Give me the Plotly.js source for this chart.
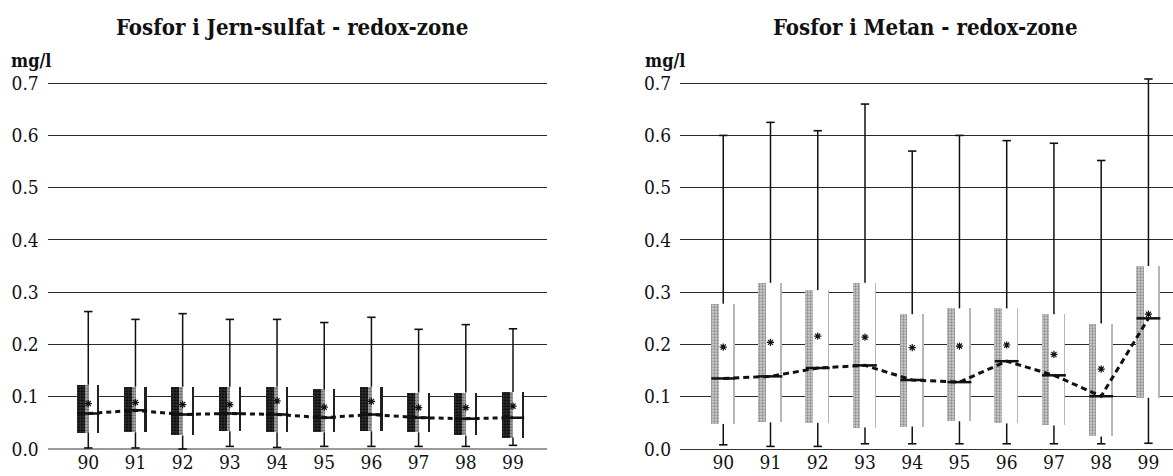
<!DOCTYPE html>
<html>
<head>
<meta charset="utf-8">
<script src="https://cdn.plot.ly/plotly-3.0.1.min.js"></script>
<style>
html,body{margin:0;padding:0;background:#fff;}
#chart{width:1173px;height:476px;}
</style>
</head>
<body>
<div id="chart"></div>
<script>
// ---- data ----
const years = ['90','91','92','93','94','95','96','97','98','99'];

// Fosfor i Jern-sulfat - redox-zone (mg/l)
const jsMin    = [0.002,0.002,0.000,0.005,0.003,0.005,0.005,0.005,0.005,0.007];
const jsQ1     = [0.031,0.032,0.026,0.034,0.032,0.032,0.034,0.032,0.026,0.022];
const jsMedian = [0.068,0.074,0.066,0.068,0.066,0.060,0.066,0.060,0.058,0.060];
const jsMean   = [0.087,0.089,0.085,0.085,0.092,0.080,0.091,0.079,0.079,0.082];
const jsQ3     = [0.123,0.119,0.119,0.119,0.119,0.114,0.119,0.108,0.108,0.109];
const jsMax    = [0.263,0.248,0.259,0.248,0.248,0.242,0.252,0.229,0.238,0.230];

// Fosfor i Metan - redox-zone (mg/l)
const meMin    = [0.008,0.005,0.005,0.010,0.010,0.010,0.010,0.010,0.010,0.011];
const meQ1     = [0.048,0.051,0.050,0.041,0.043,0.053,0.049,0.045,0.024,0.098];
const meMedian = [0.135,0.139,0.155,0.160,0.132,0.128,0.168,0.141,0.101,0.250];
const meMean   = [0.195,0.204,0.216,0.214,0.194,0.197,0.199,0.181,0.153,0.258];
const meQ3     = [0.278,0.318,0.304,0.318,0.258,0.269,0.269,0.258,0.240,0.350];
const meMax    = [0.600,0.625,0.609,0.660,0.570,0.600,0.590,0.585,0.552,0.708];

const titles = ['Fosfor i Jern-sulfat - redox-zone', 'Fosfor i Metan - redox-zone'];
const unit = 'mg/l';

const SERIF = 'DejaVu Serif Condensed, DejaVu Serif';
const INK = '#111111';

// ---- build traces ----
function panel(xa, ya, mn, q1, med, mean, q3, mx, st) {
  const h = q3.map((v, i) => v - q1[i]);
  const tr = [];
  // white box body
  tr.push({type:'bar', x:years, y:h, base:q1, xaxis:xa, yaxis:ya,
    offset:st.boxOff, width:st.boxW, marker:{color:'#ffffff', line:{width:0}}, hoverinfo:'skip'});
  // stippled band on the left side
  tr.push({type:'bar', x:years, y:h, base:q1, xaxis:xa, yaxis:ya,
    offset:st.boxOff, width:st.bandW,
    marker:{color:st.bandBg, line:{width:0},
      pattern:{shape:'.', fgcolor:st.bandFg, bgcolor:st.bandBg, size:3, solidity:0.45}},
    hoverinfo:'skip'});
  if (st.band2W) {
    tr.push({type:'bar', x:years, y:h, base:q1, xaxis:xa, yaxis:ya,
      offset:st.boxOff + st.bandW, width:st.band2W,
      marker:{color:st.band2Bg, line:{width:0},
        pattern:{shape:'.', fgcolor:st.band2Fg, bgcolor:st.band2Bg, size:3, solidity:0.35}},
      hoverinfo:'skip'});
  }
  // right edge of the box
  tr.push({type:'bar', x:years, y:h, base:q1, xaxis:xa, yaxis:ya,
    offset:st.edgeOff, width:st.edgeW,
    marker:{color:st.edgeColor, line:{width:0},
      pattern:{shape:'.', fgcolor:st.edgeFg, bgcolor:st.edgeColor, size:2, solidity:0.4}},
    hoverinfo:'skip'});
  // whiskers
  const wx = [], wy = [];
  years.forEach((c, i) => {
    wx.push(c, c, null, c, c, null);
    wy.push(q3[i], mx[i], null, q1[i], mn[i], null);
  });
  tr.push({type:'scatter', mode:'lines', x:wx, y:wy, xaxis:xa, yaxis:ya,
    line:{color:INK, width:1.5}, hoverinfo:'skip', connectgaps:false, cliponaxis:false});
  // whisker caps
  tr.push({type:'scatter', mode:'markers', x:years.concat(years), y:mx.concat(mn), xaxis:xa, yaxis:ya,
    marker:{symbol:'line-ew-open', size:st.capSize, color:INK, line:{color:INK, width:1.6}},
    hoverinfo:'skip', cliponaxis:false});
  // dashed median connector
  tr.push({type:'scatter', mode:'lines', x:years, y:med, xaxis:xa, yaxis:ya,
    line:{color:INK, width:st.dashW, dash:st.dash}, hoverinfo:'skip'});
  // median segments
  tr.push({type:'scatter', mode:'markers', x:years, y:med, xaxis:xa, yaxis:ya,
    marker:{symbol:'line-ew-open', size:st.medSize, color:INK, line:{color:INK, width:2.5}}, hoverinfo:'skip'});
  // mean asterisks
  tr.push({type:'scatter', mode:'markers', x:years, y:mean, xaxis:xa, yaxis:ya,
    marker:{symbol:'asterisk-open', size:6, color:INK, line:{color:INK, width:1.2}}, hoverinfo:'skip'});
  return tr;
}

const leftStyle = {boxOff:-0.24, boxW:0.475, bandW:0.17, bandBg:'#3a3a3a', bandFg:'#000',
  band2W:0.08, band2Bg:'#aaa', band2Fg:'#555',
  edgeOff:0.19, edgeW:0.045, edgeColor:'#333', edgeFg:'#000',
  capSize:6, medSize:16, dashW:3, dash:'5px,4px'};
const rightStyle = {boxOff:-0.26, boxW:0.50, bandW:0.16, bandBg:'#d0d0d0', bandFg:'#8a8a8a',
  edgeOff:0.21, edgeW:0.03, edgeColor:'#c8c8c8', edgeFg:'#999',
  capSize:6, medSize:17, dashW:3, dash:'6px,4px'};

const data = [].concat(
  panel('x', 'y', jsMin, jsQ1, jsMedian, jsMean, jsQ3, jsMax, leftStyle),
  panel('x2', 'y2', meMin, meQ1, meMedian, meMean, meQ3, meMax, rightStyle)
);

function tf() { return {family:SERIF, size:19, color:INK}; }
function xAxis(domain, range, anchor) {
  return {domain:domain, type:'category', range:range, anchor:anchor,
    showgrid:false, zeroline:false, showline:false,
    ticks:'', tickcolor:'rgba(0,0,0,0)',
    tickfont:tf(), automargin:false, fixedrange:true};
}
function yAxis(domain, anchor, zc, zw) {
  return {domain:domain, range:[0, 0.71], anchor:anchor, dtick:0.1, tick0:0, tickformat:'.1f',
    showgrid:true, gridcolor:'#2a2a2a', gridwidth:1,
    zeroline:true, zerolinecolor:zc, zerolinewidth:zw, showline:false,
    ticks:'outside', ticklen:4, tickcolor:'rgba(0,0,0,0)',
    tickfont:tf(), automargin:false, fixedrange:true};
}

const yDom = [0.0567, 0.8363];
const layout = {
  width:1173, height:476,
  margin:{l:0, r:0, t:0, b:0},
  paper_bgcolor:'#fff', plot_bgcolor:'#fff',
  font:{family:SERIF, color:INK},
  showlegend:false, hovermode:false,
  barmode:'overlay', bargap:0,
  xaxis: xAxis([0.0405, 0.4659], [-0.864, 9.71], 'y'),
  yaxis: yAxis(yDom, 'x', '#9a9a9a', 2),
  xaxis2: xAxis([0.5797, 1.0], [-0.916, 9.52], 'y2'),
  yaxis2: yAxis(yDom, 'x2', '#333', 1),
  annotations:[
    {text:'<b>' + titles[0] + '</b>', xref:'paper', yref:'paper', x:0.249, y:0.943,
     xanchor:'center', yanchor:'middle', showarrow:false,
     font:{family:SERIF, size:22, color:INK}},
    {text:'<b>' + titles[1] + '</b>', xref:'paper', yref:'paper', x:0.7886, y:0.943,
     xanchor:'center', yanchor:'middle', showarrow:false,
     font:{family:SERIF, size:22, color:INK}},
    {text:'<b>' + unit + '</b>', xref:'paper', yref:'paper', x:9/1173, y:(476-60)/476,
     xanchor:'left', yanchor:'middle', showarrow:false,
     font:{family:SERIF, size:18, color:INK}},
    {text:'<b>' + unit + '</b>', xref:'paper', yref:'paper', x:643/1173, y:(476-60)/476,
     xanchor:'left', yanchor:'middle', showarrow:false,
     font:{family:SERIF, size:18, color:INK}}
  ]
};

Plotly.newPlot('chart', data, layout, {staticPlot:true, displayModeBar:false});
</script>
</body>
</html>
